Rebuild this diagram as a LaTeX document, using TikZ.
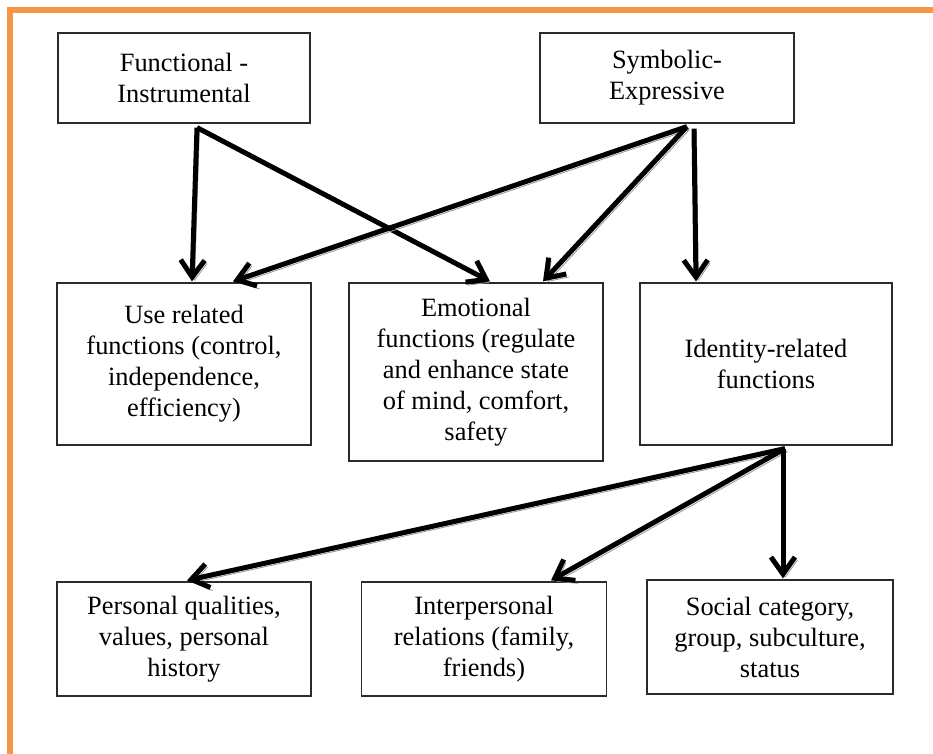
\documentclass[tikz,border=0pt]{standalone}
\usepackage{fontspec}
\setmainfont{Liberation Serif}
\newfontfamily\boxfont{Liberation Serif}
\usetikzlibrary{arrows.meta, calc}
\definecolor{frameorange}{HTML}{F79646}
\definecolor{boxline}{HTML}{2B2B2B}
\definecolor{shadegray}{HTML}{959595}
\tikzset{
  block/.style 2 args={draw=boxline, line width=0.6pt, align=center, inner sep=0pt,
              minimum width=#1*0.5pt, minimum height=#2*0.5pt,
              font=\boxfont\fontsize{13.2}{15.5}\selectfont},
  link/.style={-{Straight Barb[length=8.5pt, width=12pt]}, line width=2.5pt, draw=black,
               preaction={draw=shadegray, transform canvas={xshift=1.2pt, yshift=-1.5pt}}},
  frame/.style={draw=frameorange, line width=3pt},
}

\begin{document}
\begin{tikzpicture}[x=0.5pt, y=-0.5pt]
  \useasboundingbox (0,0) rectangle (933,754);
  \draw[frame] (10,760) -- (10,10) -- (940,10);

  % top row
  \node (func)  [block={252}{90}]  at (184,78)  {Functional -\\Instrumental};
  \node (symb)  [block={254}{90}]  at (667,78)  {Symbolic-\\Expressive};
  % middle row
  \node (use)   [block={254}{162}] at (184,364) {Use related\\functions (control,\\independence,\\efficiency)};
  \node (emo)   [block={254}{178}] at (476,372) {Emotional\\functions (regulate\\and enhance state\\of mind, comfort,\\safety};
  \node (ident) [block={252}{162}] at (766,364) {Identity-related\\functions};
  % bottom row
  \node (pers)  [block={254}{114}] at (184,639) {Personal qualities,\\values, personal\\history};
  \node (inter) [block={245}{114}] at (484,639) {Interpersonal\\relations (family,\\friends)};
  \node (soc)   [block={246}{114}] at (770,637) {Social category,\\group, subculture,\\status};

  \coordinate (ftail) at ($(func.south)+(13,4)$);
  \coordinate (stail) at ($(symb.south)+(20,3)$);
  \coordinate (itail) at ($(ident.south)+(19,3)$);

  \draw[link] (ftail) -- ($(use.north)+(8,-1)$);
  \draw[link] (ftail) -- ($(emo.north)+(14,-1)$);
  \draw[link] (stail) -- ($(use.north)+(49,-1)$);
  \draw[link] (stail) -- ($(emo.north)+(67,-1)$);
  \draw[link] ($(symb.south)+(27,5)$) -- ($(ident.north)+(-70,-1)$);
  \draw[link] (itail) -- ($(pers.north)+(3,-1)$);
  \draw[link] (itail) -- ($(inter.north)+(67,-1)$);
  \draw[link] ($(ident.south)+(17,3)$) -- ($(soc.north)+(13,-1)$);
\end{tikzpicture}
\end{document}
